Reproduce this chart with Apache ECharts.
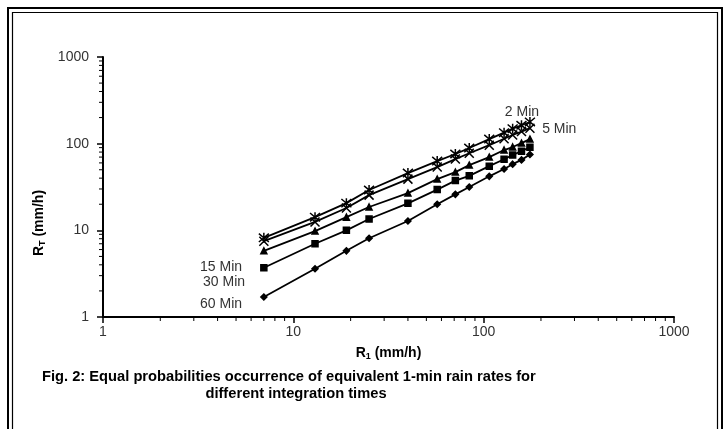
<!DOCTYPE html>
<html>
<head>
<meta charset="utf-8">
<script src="https://cdn.jsdelivr.net/npm/echarts@6/dist/echarts.min.js"></script>
<style>
  html, body { margin: 0; padding: 0; background: #fff; }
  #chart { width: 726px; height: 429px; }
</style>
</head>
<body>
<div id="chart"></div>
<script>
// 1-min rain rate (x) and equivalent rain rate for each integration time
const r1 = [7, 13, 19, 25, 40, 57, 71, 84, 107, 128, 142, 158, 175];
const min2 = [8.2, 14.2, 20.6, 29.2, 45.8, 63, 76, 89, 113, 134, 149, 163, 178];
const min5 = [7.5, 12.5, 18.1, 25.5, 39, 53.7, 66.4, 77.5, 96, 114, 126, 138, 151];
const min15 = [5.8, 9.8, 14.2, 18.6, 26.9, 39, 47, 56.6, 70, 84.4, 91.4, 101.6, 113];
const min30 = [3.7, 7, 10, 13.5, 20.5, 29.5, 37.5, 42.5, 55, 66, 74, 82, 91];
const min60 = [1.7, 3.6, 5.8, 8.1, 12.8, 20, 26, 31.6, 42, 51, 58, 65, 75];
const tickLabels = ["1", "10", "100", "1000"];

const font = "Liberation Sans, Arial, sans-serif";
const narrow = "Liberation Sans Narrow, Arial Narrow, Liberation Sans, sans-serif";

// minor log ticks 2..9 per decade
const minor = [];
for (let d = 1; d < 1000; d *= 10) {
  for (let k = 2; k <= 9; k++) minor.push(k * d);
}

const pairs = (ys) => r1.map((x, i) => [x, ys[i]]);

const lbl = (text, position, distance, offset, idx) => ({
  show: true,
  position: position,
  distance: distance,
  offset: offset,
  color: "#333",
  fontSize: 14,
  fontFamily: font,
  formatter: (p) => (p.dataIndex === idx ? text : ""),
});

const line = (name, ys, symbol, size, label) => ({
  name: name,
  type: "line",
  data: pairs(ys),
  symbol: symbol,
  symbolSize: size,
  showAllSymbol: true,
  lineStyle: { color: "#000", width: 1.8 },
  itemStyle: { color: "#000", borderColor: "#000", borderWidth: 1.5 },
  label: label,
  z: 3,
});

const star = "path://M0,0L10,10M10,0L0,10M5,-1L5,11";
const cross = "path://M0,0L10,10M10,0L0,10";

const axisName = () => ({
  b: { fontFamily: font, fontWeight: "bold", fontSize: 14, color: "#000" },
  s: { fontFamily: font, fontWeight: "bold", fontSize: 9, color: "#000", padding: [7, 0, 0, 0] },
});

var myChart = echarts.init(document.getElementById("chart"));
myChart.setOption({
  animation: false,
  backgroundColor: "#fff",
  grid: { left: 103, right: 52, top: 57, bottom: 112 },
  xAxis: {
    type: "log",
    logBase: 10,
    min: 1,
    max: 1000,
    splitLine: { show: false },
    axisLine: { lineStyle: { color: "#000", width: 2 } },
    axisTick: { length: 6, lineStyle: { color: "#000", width: 1.5 } },
    axisLabel: {
      margin: 8,
      color: "#333",
      fontSize: 14,
      fontFamily: font,
      formatter: (v) => tickLabels[Math.round(Math.log10(v))],
    },
    name: "{b|R}{s|1}{b| (mm/h)}",
    nameLocation: "middle",
    nameGap: 28,
    nameTextStyle: { rich: axisName() },
  },
  yAxis: {
    type: "log",
    logBase: 10,
    min: 1,
    max: 1000,
    splitLine: { show: false },
    axisLine: { lineStyle: { color: "#000", width: 2 } },
    axisTick: { length: 6, lineStyle: { color: "#000", width: 1.5 } },
    axisLabel: {
      margin: 14,
      color: "#333",
      fontSize: 14,
      fontFamily: font,
      formatter: (v) => tickLabels[Math.round(Math.log10(v))],
    },
    name: "{b|R}{s|T}{b| (mm/h)}",
    nameLocation: "middle",
    nameGap: 45,
    nameTextStyle: { rich: axisName(), padding: [0, 72, 0, 0] },
  },
  series: [
    line("2 Min", min2, star, 10, lbl("2 Min", "top", 4, [-8, 7], 12)),
    line("5 Min", min5, cross, 9, lbl("5 Min", "right", 7, [0, 1], 12)),
    line("15 Min", min15, "triangle", 6, lbl("15 Min", "left", 18, [0, 16], 0)),
    line("30 Min", min30, "rect", 6, lbl("30 Min", "left", 15, [0, 14], 0)),
    line("60 Min", min60, "diamond", 6, lbl("60 Min", "left", 18, [0, 7], 0)),
    {
      type: "custom",
      silent: true,
      clip: false,
      data: minor.map((v) => [v, 1]),
      renderItem: (params, api) => {
        const p = api.coord([api.value(0), 1]);
        return {
          type: "line",
          shape: { x1: p[0], y1: p[1], x2: p[0], y2: p[1] + 4 },
          style: { stroke: "#000", lineWidth: 1 },
        };
      },
    },
    {
      type: "custom",
      silent: true,
      clip: false,
      data: minor.map((v) => [1, v]),
      renderItem: (params, api) => {
        const p = api.coord([1, api.value(1)]);
        return {
          type: "line",
          shape: { x1: p[0] - 4, y1: p[1], x2: p[0], y2: p[1] },
          style: { stroke: "#000", lineWidth: 1 },
        };
      },
    },
  ],
  graphic: [
    {
      type: "rect",
      shape: { x: 8, y: 8, width: 714, height: 440 },
      style: { fill: null, stroke: "#000", lineWidth: 2 },
    },
    {
      type: "rect",
      shape: { x: 12.5, y: 12.5, width: 705, height: 440 },
      style: { fill: null, stroke: "#000", lineWidth: 1.2 },
    },
    {
      type: "text",
      x: 42,
      y: 377,
      style: {
        text: "Fig. 2: Equal probabilities occurrence of equivalent 1-min rain rates for",
        fontFamily: narrow,
        fontWeight: "bold",
        fontSize: 14.7,
        fill: "#000",
        textVerticalAlign: "middle",
      },
    },
    {
      type: "text",
      x: 296,
      y: 394,
      style: {
        text: "different integration times",
        fontFamily: narrow,
        fontWeight: "bold",
        fontSize: 14.7,
        fill: "#000",
        textAlign: "center",
        textVerticalAlign: "middle",
      },
    },
  ],
});
</script>
</body>
</html>
